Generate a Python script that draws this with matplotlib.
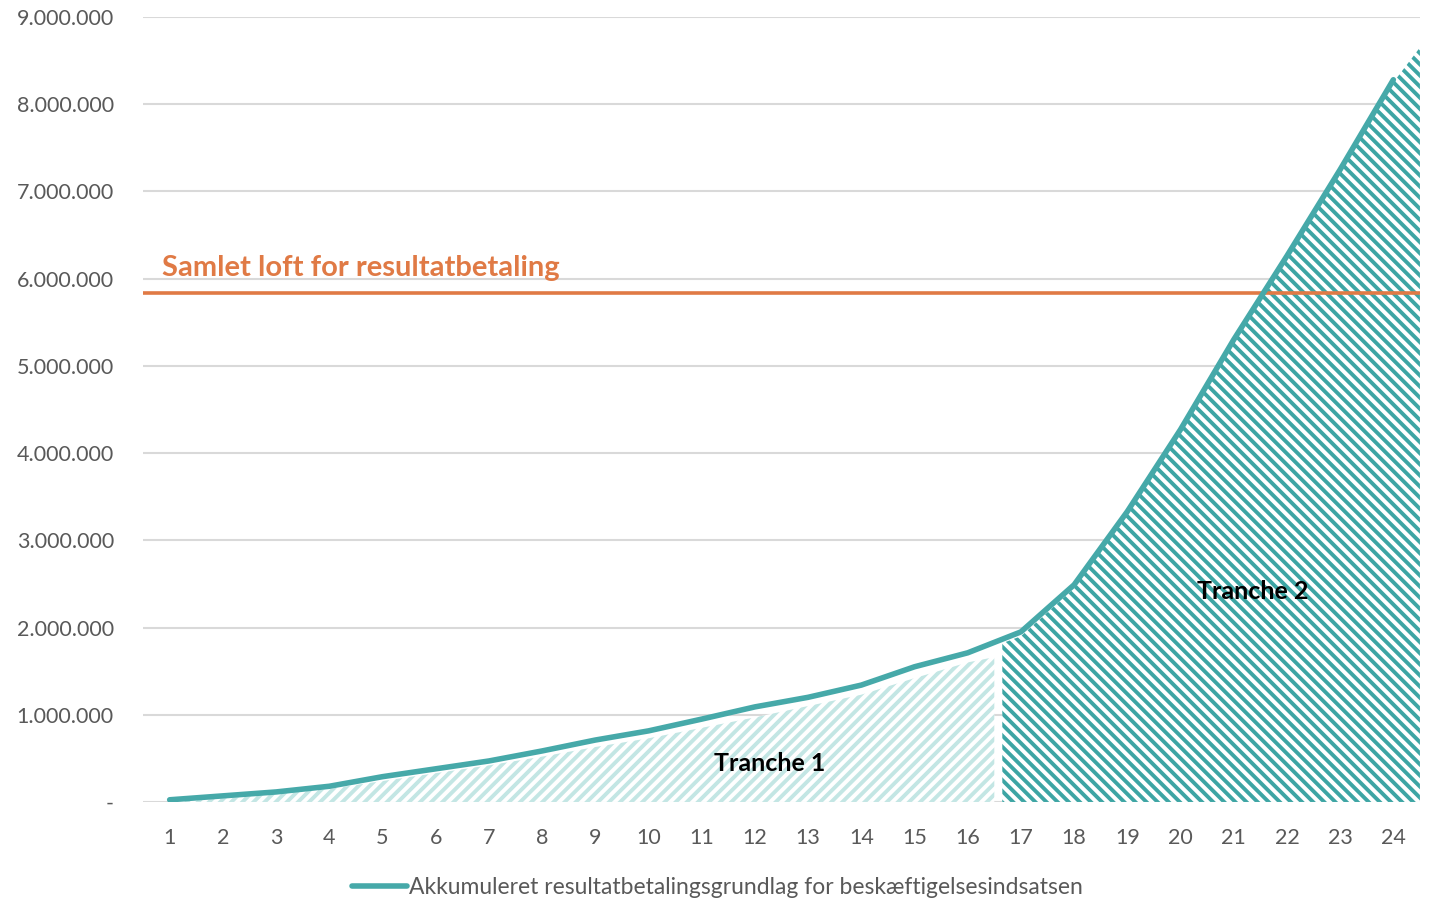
import matplotlib.pyplot as plt
from matplotlib.ticker import FuncFormatter

# Periods and accumulated basis (kr)
periods = list(range(1, 25))
akkumuleret = [25000, 70000, 115000, 180000, 290000, 380000, 470000, 585000,
               710000, 815000, 950000, 1090000, 1200000, 1340000, 1550000, 1710000,
               1950000, 2490000, 3330000, 4270000, 5300000, 6260000, 7250000, 8280000]

# Hatched tranche areas
tranche1_x = [1, 2, 3, 4, 5, 6, 7, 8, 9, 10, 11, 12, 13, 14, 15, 16, 16.5]
tranche1_y = [0, 40000, 90000, 150000, 240000, 330000, 420000, 520000, 630000,
              730000, 850000, 970000, 1100000, 1230000, 1420000, 1600000, 1660000]
tranche2_x = [16.65, 17, 18, 19, 20, 21, 22, 23, 24, 24.5]
tranche2_y = [1820000, 1900000, 2450000, 3300000, 4250000, 5280000, 6240000,
              7230000, 8250000, 8650000]

loft = 5830000
loft_label = "Samlet loft for resultatbetaling"
legend_label = "Akkumuleret resultatbetalingsgrundlag for beskæftigelsesindsatsen"

# colours
LINE_COLOUR = "#46A9A9"
T1_COLOUR = "#C3E6E4"
T2_COLOUR = "#3DA5A4"
LOFT_COLOUR = "#E07A45"
GRID_COLOUR = "#D9D9D9"
TEXT_COLOUR = "#595959"

plt.rcParams['font.family'] = ['Lato', 'DejaVu Sans']
plt.rcParams['hatch.linewidth'] = 2.8

fig = plt.figure(figsize=(14.35, 9.02), dpi=100)
ax = fig.add_axes([0.0997, 0.1109, 0.8898, 0.8703])

ax.fill_between(tranche1_x, 0, tranche1_y, facecolor="white", edgecolor=T1_COLOUR,
                hatch="///", linewidth=0, zorder=1)
ax.fill_between(tranche2_x, 0, tranche2_y, facecolor="white", edgecolor=T2_COLOUR,
                hatch="\\\\\\", linewidth=0, zorder=1)

ax.plot(periods, akkumuleret, color=LINE_COLOUR, lw=4, solid_capstyle="round",
        label=legend_label, zorder=3)
ax.axhline(loft, color=LOFT_COLOUR, lw=2.6, zorder=2)
ax.text(0.86, 6030000, loft_label, color=LOFT_COLOUR, fontsize=21,
        fontweight="bold", va="baseline", ha="left")

ax.text(12.28, 436000, "Tranche 1", fontsize=18, fontweight="bold",
        ha="center", va="center", color="black", zorder=4)
ax.text(21.36, 2410000, "Tranche 2", fontsize=18, fontweight="bold",
        ha="center", va="center", color="black", zorder=4)

ax.set_xlim(0.5, 24.5)
ax.set_ylim(0, 9000000)
ax.set_xticks(periods)
ax.set_yticks(range(0, 9000001, 1000000))


def fmt(v, pos):
    if v == 0:
        return "-"
    return f"{int(v):,}".replace(",", ".")


ax.yaxis.set_major_formatter(FuncFormatter(fmt))
ax.grid(axis="y", color=GRID_COLOUR, lw=1.5, zorder=0)
ax.set_axisbelow(True)
for s in ax.spines.values():
    s.set_visible(False)
ax.tick_params(length=0, labelsize=15.5, colors=TEXT_COLOUR)
ax.tick_params(axis="y", pad=21)
ax.tick_params(axis="x", pad=19)

fig.legend(loc="center", bbox_to_anchor=(0.5, 0.016), frameon=False, fontsize=16.5,
           handlelength=2.4, handletextpad=0.1, labelcolor=TEXT_COLOUR)

fig.savefig("out.png", dpi=100)
